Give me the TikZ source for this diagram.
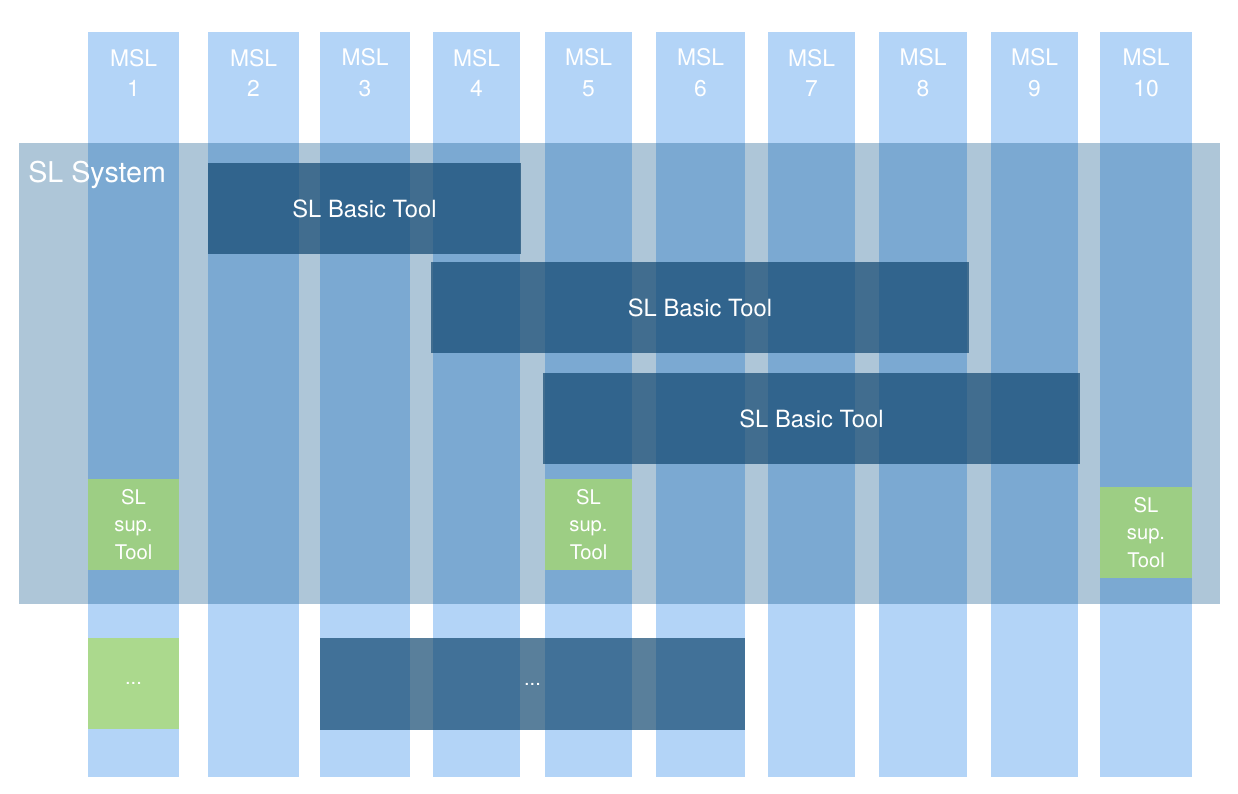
\documentclass[tikz,border=0pt]{standalone}
\usepackage{fontspec}
\setmainfont{TeX Gyre Heros}

\definecolor{mslblue}{RGB}{179,212,247}
\definecolor{sysblue}{RGB}{10,82,137}
\definecolor{tooldark}{RGB}{18,72,112}
\definecolor{supgreen}{RGB}{169,220,105}

\tikzset{
  msllabel/.style={text=white, align=center, inner sep=0pt,
    font={\fontsize{13}{17.6}\selectfont}},
  basictool/.style={fill=tooldark, fill opacity=0.7, text opacity=1,
    text=white, inner sep=0pt, minimum height=1.82cm,
    font={\fontsize{13.5}{16}\selectfont}},
  suptool/.style={fill=supgreen, fill opacity=0.74, text opacity=1,
    text=white, align=center, inner sep=0pt, minimum size=1.82cm,
    font={\fontsize{11.5}{15.5}\selectfont}}
}

\begin{document}
\begin{tikzpicture}[x=0.02cm, y=-0.02cm]
  \useasboundingbox (0,0) rectangle (1238,794);

  % the ten MSL columns
  \foreach \i/\l/\r in {1/88/179, 2/208/299, 3/320/410, 4/433/520, 5/545/632,
                        6/656/745, 7/768/855, 8/879/967, 9/991/1078, 10/1100/1192} {
    \fill[mslblue] (\l,32) rectangle (\r,777);
    \node[msllabel] (msl\i) at ({(\l+\r)/2},73) {MSL\\\i};
  }

  % the system band
  \fill[sysblue, opacity=0.33] (19,143) rectangle (1220,604);
  \node[text=white, anchor=west, inner sep=0pt,
        font={\fontsize{16.3}{20}\selectfont}] (system) at (28,175) {SL System};

  \node[basictool, minimum width=6.26cm] (basic1) at (364.5,208.5) {SL Basic Tool};
  \node[basictool, minimum width=10.76cm] (basic2) at (700,307.5) {SL Basic Tool};
  \node[basictool, minimum width=10.74cm] (basic3) at (811.5,418.5) {SL Basic Tool};

  \node[suptool] (sup1) at (133.5,524.5) {SL\\sup.\\Tool};
  \node[suptool, minimum width=1.74cm] (sup5) at (588.5,524.5) {SL\\sup.\\Tool};
  \node[suptool, minimum width=1.84cm] (sup10) at (1146,532.5) {SL\\sup.\\Tool};

  % outside the system
  \node[suptool] (moresup) at (133.5,683.5) {...};
  \node[basictool, minimum width=8.5cm, minimum height=1.84cm,
        font={\fontsize{11.5}{12}\selectfont}] (morebasic) at (532.5,684) {...};
\end{tikzpicture}
\end{document}
